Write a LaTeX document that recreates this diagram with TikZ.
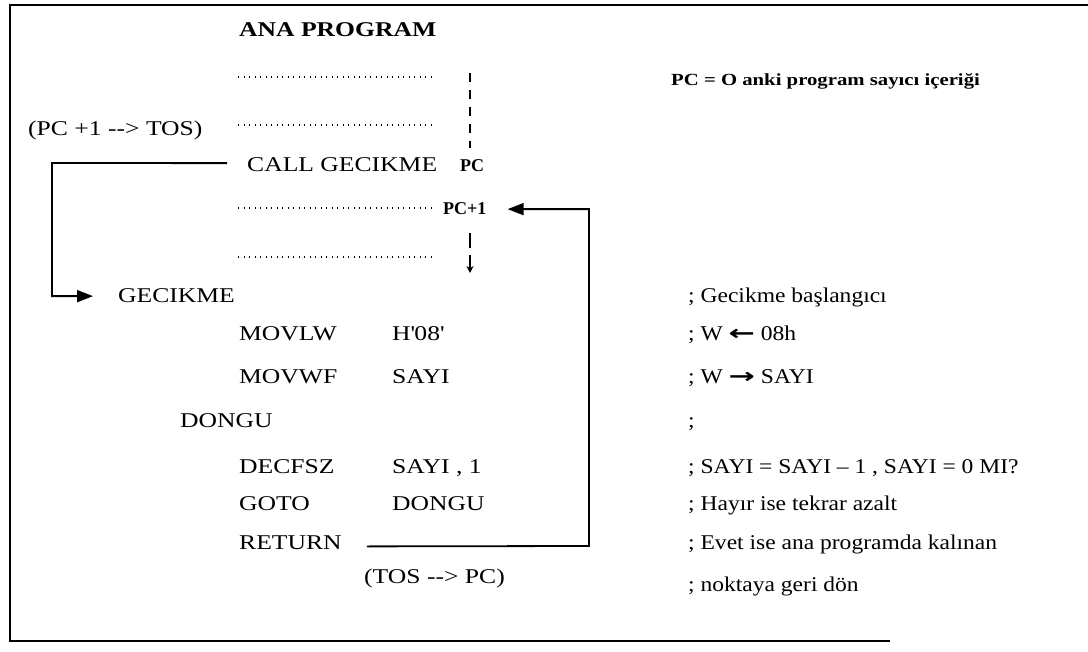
\documentclass[tikz,border=0pt]{standalone}
\usepackage{fontspec}
\setmainfont{Liberation Serif}[FakeStretch=1.22]
\newfontfamily\cmtfont{Liberation Serif}[FakeStretch=1.12]
\newfontfamily\pcfont{Liberation Serif}
\newfontfamily\arrfont{DejaVu Sans}[FakeStretch=1.5]
\usetikzlibrary{arrows.meta}
\begin{document}
\begin{tikzpicture}[x=1pt,y=-1pt,
  txt/.style={inner sep=0pt, anchor=base west, font=\fontsize{21}{24}\selectfont},
  cmt/.style={inner sep=0pt, anchor=base west, font=\cmtfont\fontsize{21}{24}\selectfont},
  hdr/.style={inner sep=0pt, anchor=base west, font=\fontsize{21}{24}\selectfont\bfseries},
  note/.style={inner sep=0pt, anchor=base west, font=\fontsize{17}{20}\selectfont\bfseries},
  pclab/.style={inner sep=0pt, anchor=base west, font=\pcfont\fontsize{18}{20}\selectfont\bfseries},
  frame/.style={line width=2.4pt},
  conn/.style={line width=1.8pt},
  bigtip/.style={-{Triangle[length=16pt,width=12pt]}},
  dotrow/.style={line width=1.3pt, dash pattern=on 1.3pt off 4.2pt},
  pcdash/.style={line width=1.6pt, dash pattern=on 9pt off 8pt},
  thin/.style={line width=1.4pt}]
\useasboundingbox (0,0) rectangle (1088,652);
% frame
\draw[frame] (1088,5) -- (10,5) -- (10,641) -- (890,641);
% main program
\node[hdr] (ana) at (239,37) {ANA PROGRAM};
\node[note] (pcnote) at (671,86) {PC = O anki program sayıcı içeriği};
\draw[dotrow] (238,77) -- (434,77);
\draw[dotrow] (238,125) -- (434,125);
\node[txt] (pctos) at (28,136) {(PC +1 -{}-> TOS)};
\node[txt] (call) at (247,172) {CALL GECIKME};
\node[pclab] (pc) at (460,172) {PC};
\draw[pcdash] (470,73) -- (470,148);
\draw[dotrow] (238,208) -- (434,208);
\node[pclab] (pc1) at (443,215) {PC+1};
\draw[thin] (470,233) -- (470,248);
\draw[thin,-{Stealth[length=7pt,width=7pt]}] (470,255) -- (470,273);
\draw[dotrow] (238,257) -- (434,257);
% subroutine
\node[txt] (gec) at (118,303) {GECIKME};
\node[txt] (movlw) at (239,341) {MOVLW};
\node[txt] (h08) at (392,341) {H\textquotesingle 08\textquotesingle};
\node[txt] (movwf) at (239,384) {MOVWF};
\node[txt] (sayi) at (392,384) {SAYI};
\node[txt] (dongu) at (180,428) {DONGU};
\node[txt] (decfsz) at (239,473) {DECFSZ};
\node[txt] (sayi1) at (392,473) {SAYI , 1};
\node[txt] (goto) at (239,511) {GOTO};
\node[txt] (dongu2) at (392,511) {DONGU};
\node[txt] (ret) at (239,549) {RETURN};
\node[txt] (tospc) at (364,583) {(TOS -{}-> PC)};
% comments
\node[cmt] (c1) at (688,303) {; Gecikme başlangıcı};
\node[cmt] (c2) at (688,341) {; W {\arrfont\bfseries ←} 08h};
\node[cmt] (c3) at (688,384) {; W {\arrfont\bfseries →} SAYI};
\node[cmt] (c4) at (688,428) {;};
\node[cmt] (c5) at (688,473) {; SAYI = SAYI – 1 , SAYI = 0 MI?};
\node[cmt] (c6) at (688,511) {; Hayır ise tekrar azalt};
\node[cmt] (c7) at (688,549) {; Evet ise ana programda kalınan};
\node[cmt] (c8) at (688,591) {; noktaya geri dön};
% connectors
\coordinate (cl) at (52,163);
\coordinate (cr) at (589,546);
\draw[conn,bigtip] ([xshift=-20pt,yshift=2pt]call.west) -- (cl) |- ([xshift=-25pt]gec.west);
\draw[conn,bigtip] ([xshift=25pt,yshift=3pt]ret.south east) -- (cr) |- ([xshift=21pt]pc1.east);
\end{tikzpicture}
\end{document}
